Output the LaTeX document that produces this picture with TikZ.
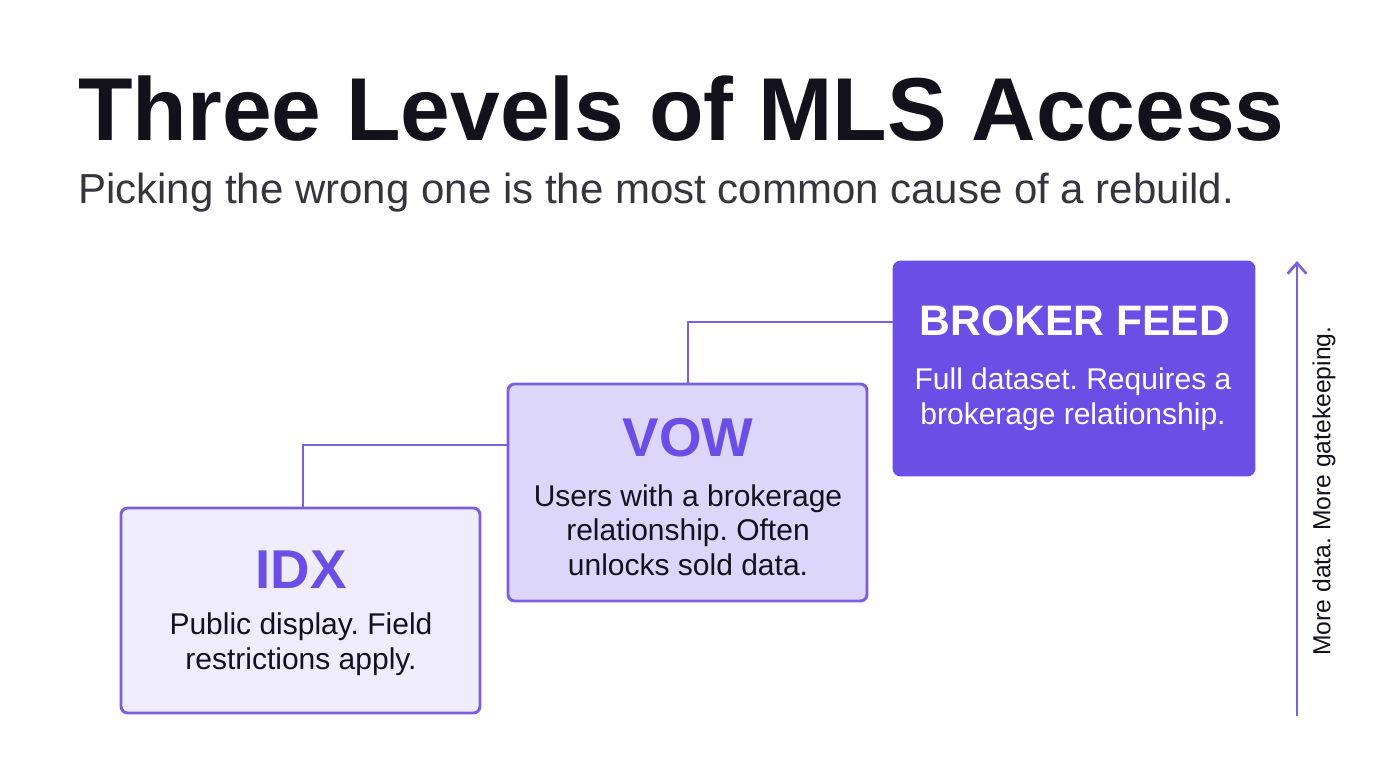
\documentclass[tikz,border=0pt]{standalone}
\usepackage{fontspec}
\setmainfont{Liberation Sans}
\usetikzlibrary{arrows.meta}
\definecolor{pur}{HTML}{6B4EE6}
\definecolor{bord}{HTML}{7B5FE0}
\definecolor{lt1}{HTML}{EFECFC}
\definecolor{lt2}{HTML}{DDD6FB}
\definecolor{ink}{HTML}{12111C}
\frenchspacing
\begin{document}
\frenchspacing
\begin{tikzpicture}[x=0.75pt,y=-0.75pt,
 box/.style={draw=bord,line width=2.2pt,rounded corners=5pt,anchor=north west,outer sep=0pt},
 ttl/.style={font=\fontsize{41}{44}\selectfont\bfseries},
 body/.style={font=\fontsize{22.5}{26}\selectfont,align=center},
 conn/.style={draw=bord,line width=2pt}]
\useasboundingbox (0,0) rectangle (1376,768);
\fill[white] (0,0) rectangle (1376,768);
\node[anchor=base west,text=ink,font=\fontsize{67}{70}\selectfont\bfseries,inner sep=0] (t) at (78,140) {Three Levels of MLS Access};
\node[anchor=base west,text=ink!85,font=\fontsize{31.5}{34}\selectfont,inner sep=0] (s) at (78,203) {Picking the wrong one is the most common cause of a rebuild.};
\node[box,fill=lt1,minimum width=359*0.75pt,minimum height=205*0.75pt] (idx) at (121,508) {};
\node[box,fill=lt2,minimum width=359*0.75pt,minimum height=217*0.75pt] (vow) at (508,384) {};
\node[box,fill=pur,draw=pur,minimum width=360*0.75pt,minimum height=213*0.75pt] (bf) at (894,262) {};
\node[ttl,text=pur] (idxt) at (301,570) {IDX};
\node[body,text=ink] (idxb) at (301,644) {Public display. Field\\restrictions apply.};
\node[ttl,text=pur] (vowt) at (688,438) {VOW};
\node[body,text=ink] (vowb) at (688,530) {Users with a brokerage\\relationship. Often\\unlocks sold data.};
\node[ttl,text=white,font=\fontsize{32}{36}\selectfont\bfseries] (bft) at (1075,321) {BROKER FEED};
\node[body,text=white] (bfb) at (1073,399) {Full dataset. Requires a\\brokerage relationship.};
\draw[conn] (303,508) |- (vow.west|-0,445);
\draw[conn] (688,384) |- (bf.west|-0,322);
\coordinate (a1) at (1297,716);
\coordinate (a2) at (1297,261);
\draw[bord,line width=2pt,-{Straight Barb[length=8pt,width=14pt]}] (a1) -- (a2);
\node[rotate=90,font=\fontsize{18.5}{20}\selectfont,text=ink] (side) at (1324,491) {More data. More gatekeeping.};
\end{tikzpicture}
\end{document}
